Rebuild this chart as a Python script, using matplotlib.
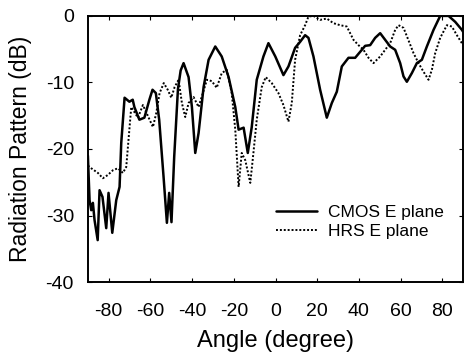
import matplotlib
matplotlib.use("Agg")
import matplotlib.pyplot as plt

plt.rcParams['font.family'] = ['Liberation Sans', 'DejaVu Sans']
plt.rcParams['axes.unicode_minus'] = False

# CMOS E plane (solid)
cmos_angle = [-90, -89.2, -88.4, -87.6, -86.8, -85.3, -84.4, -83, -81.2, -80.1, -78.3, -76.4,
              -74.8, -74, -72.4, -70.1, -68.5, -67.7, -65.3, -62.9, -60.5, -59, -57.4,
              -55.8, -53.7, -52.1, -51, -49.9, -48.6, -46.8, -45.5, -44.1, -41.7, -40.1,
              -38.5, -36.9, -34.5, -32.1, -28.9, -25.8, -22.5, -19.3, -17.7, -15.3,
              -13.3, -11.4, -9, -5.8, -3.4, -0.1, 3.8, 6.2, 9.4, 11.8, 14.2, 15.8, 18.2,
              21.4, 24.6, 27, 29.4, 31.8, 35, 38.2, 40.6, 43, 45.4, 47.8, 50.2, 52.6, 55,
              57.4, 59.8, 61.4, 63, 65.4, 67.8, 70.2, 72.6, 75.8, 79, 83, 86.2, 89.4, 90]
cmos_db = [-21, -27.7, -29.2, -28.1, -30.7, -33.7, -26.2, -27.2, -31.9, -26.6, -32.6, -27.7,
           -25.7, -19.1, -12.3, -12.9, -12.6, -13.7, -15.6, -15.3, -12.6, -11.1, -11.6,
           -15.6, -24.2, -31.1, -26.6, -31, -21.2, -11, -8.2, -7.1, -9.2, -13.7,
           -20.6, -17.6, -10.7, -6.6, -4.6, -6.1, -9.2, -13.7, -17.1, -16.8,
           -20.6, -16.7, -9.6, -6.1, -4.1, -6.1, -8.9, -7.6, -4.8, -3.9, -2.9, -3.3, -6.1,
           -11.1, -15.3, -13.1, -11.4, -7.6, -6.3, -6.3, -5.4, -4.5, -4.4, -3.3, -2.6, -3.6, -4.6,
           -5.1, -7.1, -9.1, -9.9, -8.6, -7.1, -6.6, -4.6, -2.1, 0, 0, -0.9, -2.1, -2.4]

# HRS E plane (dotted)
hrs_angle = [-90, -88.4, -85.2, -82.8, -80.4, -78, -75.6, -73.2, -71.6, -70, -69.2, -66,
             -63.6, -60.4, -58.8, -57.2, -55.6, -53.6, -51.7, -50, -48.4, -46.5, -44.9,
             -43.3, -41.7, -39.3, -36.9, -32.9, -30.6, -28.2, -25.8, -23.4, -21, -19.3,
             -17.7, -16.2, -14.5, -12.1, -10.6, -9, -6.6, -4.7, -1.8, 1.4, 3.8, 6.2, 7.8,
             9.4, 11.8, 14.2, 15.8, 18.2, 21.4, 24.6, 27.8, 31, 34.2, 37.4, 39.8, 42.2,
             44.6, 47, 50.2, 52.6, 55, 57.4, 59, 61.4, 63.7, 66.2, 68.6, 71, 73.4, 75,
             76.6, 79, 82.2, 84.6, 87, 89.4]
hrs_db = [-22.5, -22.9, -23.6, -24.4, -23.9, -23.2, -22.9, -23.6, -22.7, -16.7, -13.7, -15.3,
          -13.4, -15.6, -16.7, -14.6, -11.6, -10.1, -11.1, -12.3, -10.7, -9.6, -13.1,
          -15.2, -13.1, -12.2, -13.7, -9.6, -9.8, -10.8, -8.6, -8.1, -11.6, -17.1,
          -25.7, -20.6, -21.7, -25.1, -20.6, -15.6, -10.7, -9.2, -10.1, -11.6, -13.4, -15.9, -13.1,
          -6.6, -2.9, -1.4, -0.1, 0, -0.6, -0.4, -1.1, -1.4, -1.6, -3.6, -4.4, -5.1,
          -6.3, -7.1, -6.1, -5.1, -4.1, -2.1, -1.4, -1.8, -3.6, -5.6, -7.1, -8.4, -9.6, -8.1,
          -5.6, -3.3, -1.4, -1.6, -2.9, -4.1]

xticks = [-80, -60, -40, -20, 0, 20, 40, 60, 80]
yticks = [0, -10, -20, -30, -40]

fig = plt.figure(figsize=(4.65, 3.53), dpi=100)
ax = fig.add_axes([0.189, 0.201, 0.807, 0.754])

ax.plot(cmos_angle, cmos_db, color='black', lw=1.8, solid_joinstyle='round',
        solid_capstyle='round', label='CMOS E plane')
ax.plot(hrs_angle, hrs_db, color='black', lw=1.4, linestyle=(0, (1, 1)),
        dash_joinstyle='round', label='HRS E plane')

ax.set_xlim(-90, 90)
ax.set_ylim(-40, 0)
ax.set_xticks(xticks)
ax.set_yticks(yticks)
ax.tick_params(labelsize=14, length=3, top=True, right=True, direction='in')
ax.tick_params(axis='y', pad=10)
ax.tick_params(axis='x', pad=15)
for s in ax.spines.values():
    s.set_linewidth(1.4)

ax.set_xlabel('Angle (degree)', fontsize=17, labelpad=7)
ax.set_ylabel('Radiation Pattern (dB)', fontsize=16.5, labelpad=10)

ax.legend(loc='center left', bbox_to_anchor=(0.5, 0.226), frameon=False, fontsize=12.5,
          handlelength=2.4, handletextpad=0.6, borderpad=0, borderaxespad=0,
          labelspacing=0.25)

fig.savefig('out.png', dpi=100)
